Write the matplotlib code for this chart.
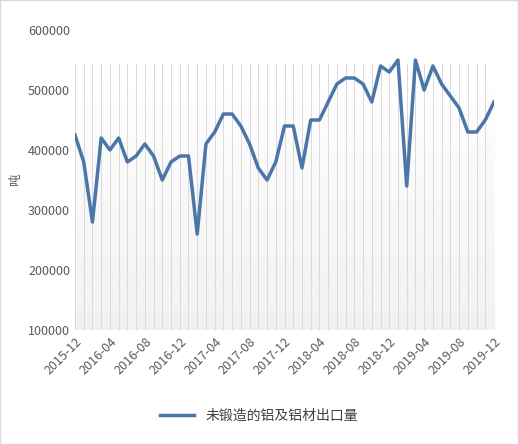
import matplotlib.pyplot as plt
import numpy as np

plt.rcParams['font.family'] = ['Noto Sans CJK SC', 'DejaVu Sans']

# monthly export of unwrought aluminium and aluminium products, 2015-12 .. 2019-12
months = ['%d-%02d' % (2015 + (11 + i) // 12, (11 + i) % 12 + 1) for i in range(49)]
values = [425000, 380000, 280000, 420000, 400000, 420000, 380000, 390000,
          410000, 390000, 350000, 380000, 390000, 390000, 260000, 410000,
          430000, 460000, 460000, 440000, 410000, 370000, 350000, 380000,
          440000, 440000, 370000, 450000, 450000, 480000, 510000, 520000,
          520000, 510000, 480000, 540000, 530000, 550000, 340000, 550000,
          500000, 540000, 510000, 490000, 470000, 430000, 430000, 450000,
          480000]
yticks = [100000, 200000, 300000, 400000, 500000, 600000]

fig = plt.figure(figsize=(5.18, 4.44), dpi=100)
ax = fig.add_axes([75 / 518, 1 - 330 / 444, (494 - 75) / 518, 300 / 444])
x = np.arange(len(values))

# soft gradient backdrop up to ~545000
grad = np.linspace(0.945, 1.0, 256).reshape(-1, 1)
ax.imshow(grad, cmap='gray', vmin=0, vmax=1, aspect='auto', origin='lower',
          extent=[0, len(values) - 1, 100000, 545000], zorder=0)
ax.vlines(x, 100000, 545000, color='#dadada', lw=0.7, zorder=1)

ax.plot(x, values, color='#4a76a8', lw=2.5, zorder=3, label='未锻造的铝及铝材出口量')

ax.set_xlim(0, len(values) - 1)
ax.set_ylim(100000, 600000)
ax.set_yticks(yticks)
ax.set_yticklabels([str(v) for v in yticks], color='#595959', fontsize=9)
ax.set_xticks(x[::4])
ax.set_xticklabels(months[::4], rotation=45, ha='right', rotation_mode='anchor',
                   color='#595959', fontsize=9)
ax.tick_params(length=0)
for s in ax.spines.values():
    s.set_visible(False)
ax.set_ylabel('吨', color='#595959', fontsize=9)

fig.legend(loc='lower center', bbox_to_anchor=(0.5, 0.02), frameon=False, fontsize=10,
           labelcolor='#404040', handlelength=2.5)
fig.patches.append(plt.Rectangle((0, 0), 1, 1, transform=fig.transFigure, fill=False,
                                 edgecolor='#d9d9d9', lw=1))
fig.savefig('out.png', dpi=100)
